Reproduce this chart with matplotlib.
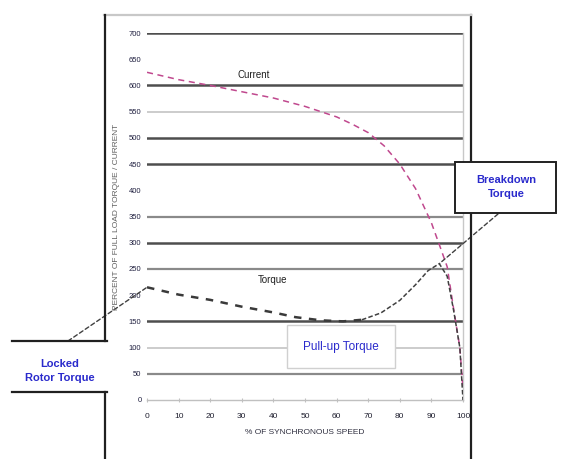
import matplotlib
matplotlib.use("Agg")
import matplotlib.pyplot as plt
from matplotlib.patches import Rectangle
from matplotlib.lines import Line2D
import numpy as np

# ---------------- data ----------------
speed_current = [0, 10, 20, 30, 40, 50, 60, 65, 70, 75, 80, 85, 90, 93, 95, 97, 99, 100]
current = [625, 611, 600, 588, 576, 560, 540, 526, 510, 485, 450, 403, 338, 288, 254, 175, 100, 20]

speed_torque = [0, 10, 20, 30, 40, 47, 55, 62, 68, 74, 80, 85, 89, 92.5, 95, 97, 99, 100]
torque = [215, 201, 191, 178, 167, 158, 152, 150, 153, 166, 190, 220, 247, 260, 236, 172, 100, 0]

x_ticks = [0, 10, 20, 30, 40, 50, 60, 70, 80, 90, 100]
y_ticks = list(range(0, 701, 50))
x_label = "% OF SYNCHRONOUS SPEED"
y_label = "PERCENT OF FULL LOAD TORQUE / CURRENT"

W, H = 562, 459
FONT = "Liberation Sans"
plt.rcParams['font.family'] = [FONT, 'DejaVu Sans']


def fp(x, y):
    """pixel (from top-left) -> figure fraction"""
    return x / W, 1 - y / H


fig = plt.figure(figsize=(W / 100, H / 100), dpi=100)
fig.patch.set_facecolor("white")

ax = fig.add_axes([147 / W, 1 - 400 / H, 316 / W, 367 / H])
ax.set_xlim(0, 100)
ax.set_ylim(0, 700)

# gridlines
grid_dark = [700, 600, 500, 450, 300, 150]
grid_mid = [350, 250, 50]
grid_light = [550, 100]
for v in grid_dark:
    ax.axhline(v, color="#4e4e4e", lw=1.8, zorder=1)
for v in grid_mid:
    ax.axhline(v, color="#8a8a8a", lw=1.6, zorder=1)
for v in grid_light:
    ax.axhline(v, color="#c4c4c4", lw=1.2, zorder=1)

for s in ["top", "left"]:
    ax.spines[s].set_visible(False)
ax.spines["right"].set_color("#c8c8c8")
ax.spines["right"].set_linewidth(1.0)
ax.spines["bottom"].set_color("#c0c0c0")
ax.spines["bottom"].set_linewidth(1.0)

ax.set_xticks(x_ticks)
ax.set_xticklabels([str(v) for v in x_ticks], fontsize=6, color="#202030")
ax.set_yticks(y_ticks)
ax.set_yticklabels([str(v) for v in y_ticks], fontsize=5.5, color="#202040")
ax.tick_params(axis="y", length=0, pad=4)
ax.tick_params(axis="x", length=3, color="#c0c0c0", direction="inout", pad=8)
ax.set_xticks([20, 30, 40, 60], minor=True)
ax.tick_params(axis="x", which="minor", length=6, width=1.2, color="#303030", direction="inout")

# curves
ax.plot(speed_current, current, color="#c0488e", lw=1.1, ls=(0, (4, 3)), zorder=3)
k = 8
ax.plot(speed_torque[:k + 1], torque[:k + 1], color="#3a3a3a", lw=1.8, ls=(0, (3, 3)), zorder=4)
ax.plot(speed_torque[k:], torque[k:], color="#404040", lw=1.1, ls=(0, (3, 1.5)), zorder=4)

ax.text((254 - 147) / 3.16, (400 - 75) * 700 / 367, "Current", fontsize=7,
        ha="center", va="center", color="#202020", zorder=5)
ax.text((273 - 147) / 3.16, (400 - 280) * 700 / 367, "Torque", fontsize=7,
        ha="center", va="center", color="#202020", zorder=5)

ax.set_xlabel(x_label, fontsize=6, color="#303040", labelpad=6)

fig.text(*fp(116, 217), y_label, rotation=90, fontsize=6, color="#606060",
         ha="center", va="center")

# frame lines
fig.add_artist(Line2D([fp(104, 0)[0], fp(471, 0)[0]], [fp(0, 15)[1]] * 2,
                      color="#c8c8c8", lw=1.6, transform=fig.transFigure))
fig.add_artist(Line2D([fp(105, 0)[0]] * 2, [fp(0, 15)[1], fp(0, 341)[1]],
                      color="#202020", lw=1.6, transform=fig.transFigure))
fig.add_artist(Line2D([fp(105, 0)[0]] * 2, [fp(0, 392)[1], fp(0, 459)[1]],
                      color="#202020", lw=1.6, transform=fig.transFigure))
fig.add_artist(Line2D([fp(471, 0)[0]] * 2, [fp(0, 15)[1], fp(0, 459)[1]],
                      color="#202020", lw=1.6, transform=fig.transFigure, zorder=1))

# Locked rotor torque label
for yy in (341, 392):
    fig.add_artist(Line2D([fp(12, 0)[0], fp(107, 0)[0]], [fp(0, yy)[1]] * 2,
                          color="#202020", lw=1.6, transform=fig.transFigure))
fig.text(*fp(60, 371), "Locked\nRotor Torque", fontsize=8, fontweight="bold",
         color="#2a2acc", ha="center", va="center", linespacing=1.6)
ax.annotate("", xy=(speed_torque[0], torque[0]), xycoords="data",
            xytext=fp(68, 341), textcoords="figure fraction",
            arrowprops=dict(arrowstyle="-", color="#404040", lw=1.0,
                            ls=(0, (3, 2)), shrinkA=0, shrinkB=0),
            annotation_clip=False)

# Breakdown torque box
bx0, by0 = fp(455, 213)
bx1, by1 = fp(556, 162)
fig.add_artist(Rectangle((bx0, by0), bx1 - bx0, by1 - by0, transform=fig.transFigure,
                         facecolor="white", edgecolor="#202020", lw=1.4, zorder=6))
fig.text(*fp(506, 187), "Breakdown\nTorque", fontsize=8, fontweight="bold",
         color="#2a2acc", ha="center", va="center", linespacing=1.5, zorder=7)
ipk = int(np.argmax(torque))
ax.annotate("", xy=(speed_torque[ipk], torque[ipk]), xycoords="data",
            xytext=fp(498, 214), textcoords="figure fraction",
            arrowprops=dict(arrowstyle="-", color="#404040", lw=1.0,
                            ls=(0, (3, 2)), shrinkA=0, shrinkB=0),
            annotation_clip=False, zorder=5)

# Pull-up torque box
px0, py0 = fp(287, 368)
px1, py1 = fp(395, 325)
fig.add_artist(Rectangle((px0, py0), px1 - px0, py1 - py0, transform=fig.transFigure,
                         facecolor="white", edgecolor="#d0d0d0", lw=1.0, zorder=6))
fig.text(*fp(341, 347), "Pull-up Torque", fontsize=8.5,
         color="#2a2acc", ha="center", va="center", zorder=7)

fig.savefig("out.png", dpi=100, facecolor="white")
